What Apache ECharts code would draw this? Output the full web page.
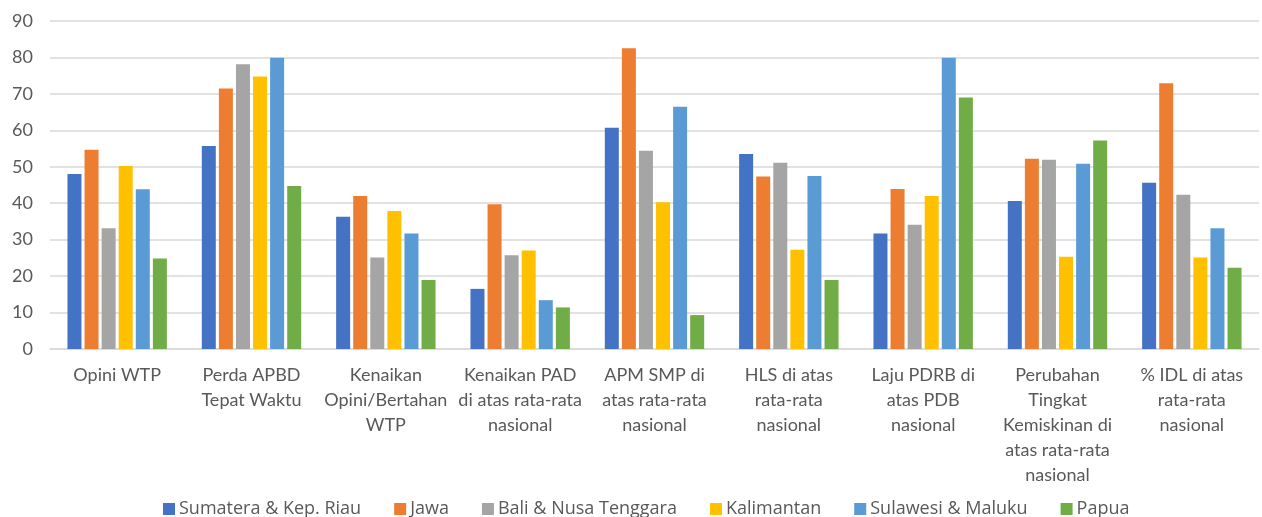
<!DOCTYPE html>
<html>
<head>
<meta charset="utf-8">
<script src="https://cdn.jsdelivr.net/npm/echarts@6/dist/echarts.min.js"></script>
<style>
  html, body { margin: 0; padding: 0; background: #fff; }
  #chart { width: 1262px; height: 517px; }
</style>
</head>
<body>
<div id="chart"></div>
<script>
// Indicator categories (line breaks follow the axis label wrapping)
const categories = [
  'Opini WTP',
  'Perda APBD\nTepat Waktu',
  'Kenaikan\nOpini/Bertahan\nWTP',
  'Kenaikan PAD\ndi atas rata-rata\nnasional',
  'APM SMP di\natas rata-rata\nnasional',
  'HLS di atas\nrata-rata\nnasional',
  'Laju PDRB di\natas PDB\nnasional',
  'Perubahan\nTingkat\nKemiskinan di\natas rata-rata\nnasional',
  '% IDL di atas\nrata-rata\nnasional'
];

const regionNames = [
  'Sumatera & Kep. Riau',
  'Jawa',
  'Bali & Nusa Tenggara',
  'Kalimantan',
  'Sulawesi & Maluku',
  'Papua'
];

// Values per region, one entry per indicator
const sumatera   = [48.0, 55.7, 36.3, 16.5, 60.7, 53.5, 31.7, 40.6, 45.6];
const jawa       = [54.7, 71.5, 42.0, 39.7, 82.5, 47.3, 43.9, 52.2, 72.9];
const baliNusa   = [33.1, 78.1, 25.1, 25.7, 54.4, 51.1, 34.1, 51.9, 42.3];
const kalimantan = [50.2, 74.8, 37.9, 27.0, 40.3, 27.2, 42.0, 25.3, 25.1];
const sulawesi   = [43.8, 79.9, 31.7, 13.4, 66.5, 47.5, 79.9, 50.8, 33.1];
const papua      = [24.8, 44.7, 18.9, 11.4,  9.3, 18.9, 69.0, 57.2, 22.3];

const seriesValues = [sumatera, jawa, baliNusa, kalimantan, sulawesi, papua];
const colors = ['#4472C4', '#ED7D31', '#A5A5A5', '#FFC000', '#5B9BD5', '#70AD47'];

const textColor = '#595959';
const fontFamily = 'Lato, "Open Sans", sans-serif';
const legendFont = '"Open Sans", Lato, sans-serif';

const chart = echarts.init(document.getElementById('chart'));
chart.setOption({
  animation: false,
  color: colors,
  textStyle: { fontFamily: fontFamily },
  grid: { left: 50, right: 3, top: 21, bottom: 168, containLabel: false },
  legend: {
    data: regionNames,
    top: 500,
    left: 163,
    padding: 0,
    icon: 'rect',
    itemWidth: 12,
    itemHeight: 12,
    itemGap: 33,
    textStyle: { color: textColor, fontSize: 18, fontFamily: legendFont, padding: [0, 0, 0, -1] }
  },
  xAxis: {
    type: 'category',
    data: categories,
    axisTick: { show: false },
    axisLine: { lineStyle: { color: '#d9d9d9', width: 1.5 } },
    axisLabel: {
      interval: 0,
      color: textColor,
      fontSize: 18,
      lineHeight: 25,
      margin: 14,
      fontFamily: fontFamily
    }
  },
  yAxis: {
    type: 'value',
    min: 0,
    max: 90,
    interval: 10,
    axisLine: { show: false },
    axisTick: { show: false },
    splitLine: { lineStyle: { color: '#d9d9d9', width: 1.5 } },
    axisLabel: { color: textColor, fontSize: 18, margin: 17, fontFamily: fontFamily }
  },
  series: regionNames.map((name, i) => ({
    name: name,
    type: 'bar',
    data: seriesValues[i],
    barWidth: 14,
    barGap: '22%',
    barCategoryGap: '23%'
  }))
});
</script>
</body>
</html>
